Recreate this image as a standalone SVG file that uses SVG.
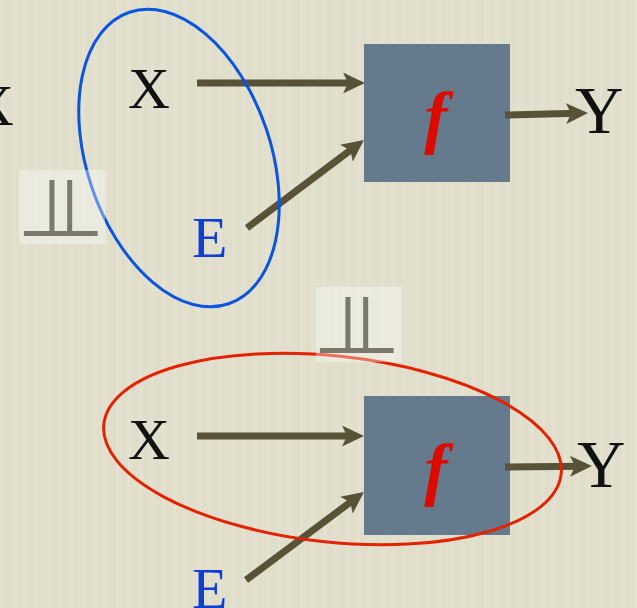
<svg xmlns="http://www.w3.org/2000/svg" width="637" height="608" viewBox="0 0 637 608">
<defs>
<pattern id="grain" width="23" height="608" patternUnits="userSpaceOnUse">
<rect width="23" height="608" fill="#e1dfcc"/>
<rect x="2" width="1.5" height="608" fill="#e9e8d9" opacity="0.5"/>
<rect x="8" width="1" height="608" fill="#d9d7c4" opacity="0.35"/>
<rect x="13" width="2" height="608" fill="#e8e7d7" opacity="0.45"/>
<rect x="19" width="1" height="608" fill="#dad8c5" opacity="0.35"/>
</pattern>
<marker id="ah" markerUnits="userSpaceOnUse" viewBox="0 0 22 21" markerWidth="22" markerHeight="21" refX="11" refY="10.5" orient="auto">
<path d="M0,0 L22,10.5 L0,21 L5,10.5 Z" fill="#575238"/>
</marker>
</defs>
<style>
.lbl{font-family:"Liberation Serif","Times New Roman",serif;font-size:58px;fill:#111}
.e{fill:#1040d0}
.y{font-size:67px}
.fx{font-family:"Liberation Serif","Times New Roman",serif;font-size:70px;font-weight:bold;font-style:italic;fill:#dd0a00}
.box{fill:#667a8d}
.arr{stroke:#575238;stroke-width:7;fill:none;marker-end:url(#ah)}
.indep{fill:#ffffff;opacity:0.35}
.sym{font-family:"DejaVu Sans",sans-serif;font-size:80px;fill:#7a796c;letter-spacing:-52px}
</style>
<rect width="637" height="608" fill="url(#grain)"/>

<g id="x-left"><text class="lbl" x="14" y="125" text-anchor="end">X</text></g>

<g id="top-f"><rect class="box" x="364" y="44" width="146" height="138"/><text class="fx" x="436" y="140" text-anchor="middle">f</text></g>
<g id="top-x"><text class="lbl" x="128" y="108">X</text></g>
<g id="top-e"><text class="lbl e" x="192" y="257">E</text></g>
<g id="top-y"><text class="lbl y" x="575" y="133">Y</text></g>

<g id="bot-f"><rect class="box" x="364" y="396" width="146" height="139"/><text class="fx" x="436" y="492" text-anchor="middle">f</text></g>
<g id="bot-x"><text class="lbl" x="128" y="459">X</text></g>
<g id="bot-e"><text class="lbl e" x="192" y="608">E</text></g>
<g id="bot-y"><text class="lbl y" x="577" y="487">Y</text></g>

<g id="connectors">
<line class="arr" x1="197" y1="83" x2="354" y2="83"/>
<line class="arr" x1="247" y1="228" x2="355.2" y2="146.6"/>
<line class="arr" x1="505" y1="115" x2="577" y2="113.3"/>
<line class="arr" x1="197" y1="436" x2="353" y2="436"/>
<line class="arr" x1="246" y1="580" x2="355.2" y2="498.6"/>
<line class="arr" x1="505" y1="467" x2="581" y2="466.2"/>
</g>

<g id="blue-ellipse"><ellipse cx="179" cy="158" rx="92" ry="154" transform="rotate(-18.8 179 158)" fill="none" stroke="#0a55e0" stroke-width="3"/></g>
<g id="red-ellipse"><ellipse cx="332.5" cy="449" rx="230" ry="93" transform="rotate(6.2 332.5 449)" fill="none" stroke="#e22200" stroke-width="3"/></g>

<g id="indep-1"><rect class="indep" x="19" y="170" width="86" height="74"/><text class="sym" x="17" y="236">⊥⊥</text></g>
<g id="indep-2"><rect class="indep" x="316" y="287" width="86" height="75"/><text class="sym" x="313" y="353">⊥⊥</text></g>
</svg>
